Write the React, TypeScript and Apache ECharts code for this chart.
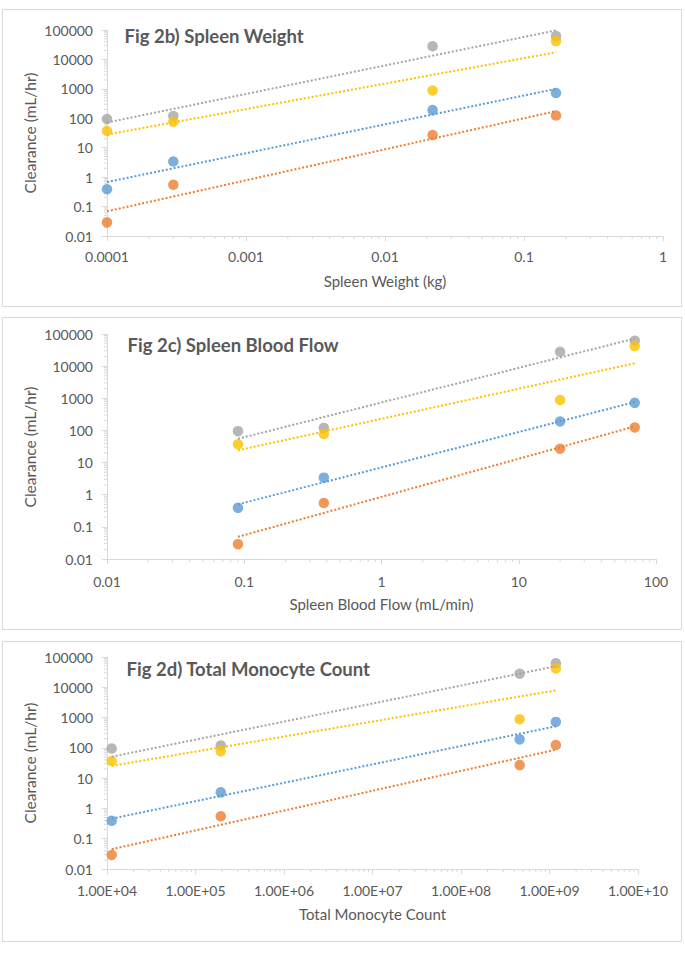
import React, { useEffect, useRef } from "react";
import * as echarts from "echarts";

// ---- Data ----
const seriesColors = ["#5B9BD5", "#ED7D31", "#A5A5A5", "#FFC000"];

// Clearance (mL/hr), same for every panel
const clearanceBlue = [0.39, 3.4, 190, 720];
const clearanceOrange = [0.029, 0.55, 27, 124];
const clearanceGray = [95, 120, 28000, 62000];
const clearanceYellow = [37, 77, 880, 42000];

// X values per panel
const spleenWeight = [0.0001, 0.0003, 0.022, 0.17];
const spleenBloodFlow = [0.09, 0.38, 20, 70];
const monocyteCount = [1.13e4, 1.93e5, 4.6e8, 1.18e9];

// Trendline end values [at first x, at last x]
const trendWeightBlue = [0.68, 1000];
const trendWeightOrange = [0.069, 175];
const trendWeightGray = [72, 97000];
const trendWeightYellow = [28, 17500];

const trendFlowBlue = [0.5, 765];
const trendFlowOrange = [0.049, 133];
const trendFlowGray = [55, 72000];
const trendFlowYellow = [24, 12300];

const trendCountBlue = [0.46, 517];
const trendCountOrange = [0.045, 87];
const trendCountGray = [51, 49700];
const trendCountYellow = [25.5, 7900];

// Axis ranges
const yRange = [0.01, 100000];
const xRangeWeight = [0.0001, 1];
const xRangeFlow = [0.01, 100];
const xRangeCount = [1e4, 1e10];

const panelTitles = [
  "Fig 2b) Spleen Weight",
  "Fig 2c) Spleen Blood Flow",
  "Fig 2d) Total Monocyte Count",
];
const xAxisTitles = ["Spleen Weight (kg)", "Spleen Blood Flow (mL/min)", "Total Monocyte Count"];
const yAxisTitle = "Clearance (mL/hr)";

const FONT = "Lato, 'Noto Sans', sans-serif";
const TEXT = "#595959";
const LINE = "#D9D9D9";

function fmtPlain(v: number) {
  return String(Number(v.toPrecision(1)));
}
function fmtSci(v: number) {
  const e = Math.round(Math.log10(v));
  return "1.00E+" + String(e).padStart(2, "0");
}

function minorTicks(xr: number[], yr: number[]) {
  const out: number[][] = [];
  const x0 = Math.round(Math.log10(xr[0]));
  const x1 = Math.round(Math.log10(xr[1]));
  for (let d = x0; d < x1; d++) {
    for (let k = 2; k <= 9; k++) out.push([k * Math.pow(10, d), yr[0], 0]);
  }
  const y0 = Math.round(Math.log10(yr[0]));
  const y1 = Math.round(Math.log10(yr[1]));
  for (let d = y0; d < y1; d++) {
    for (let k = 2; k <= 9; k++) out.push([xr[0], k * Math.pow(10, d), 1]);
  }
  return out;
}

export default function App() {
  const ref = useRef<HTMLDivElement>(null);

  useEffect(() => {
    if (!ref.current) return;
    const chart = echarts.init(ref.current, undefined, { renderer: "svg" });

    const grids = [
      { left: 107, top: 30, width: 556, height: 206 },
      { left: 107, top: 334, width: 549, height: 225 },
      { left: 107, top: 657, width: 531, height: 212 },
    ];
    const xRanges = [xRangeWeight, xRangeFlow, xRangeCount];
    const xData = [spleenWeight, spleenBloodFlow, monocyteCount];
    const yData = [clearanceBlue, clearanceOrange, clearanceGray, clearanceYellow];
    const trends = [
      [trendWeightBlue, trendWeightOrange, trendWeightGray, trendWeightYellow],
      [trendFlowBlue, trendFlowOrange, trendFlowGray, trendFlowYellow],
      [trendCountBlue, trendCountOrange, trendCountGray, trendCountYellow],
    ];
    const labelMargins = [13, 15, 14];

    const xAxes: any[] = [];
    const yAxes: any[] = [];
    const series: any[] = [];
    const graphics: any[] = [];

    const panelBoxes = [
      { y: 9, h: 297 },
      { y: 317, h: 312 },
      { y: 641, h: 300 },
    ];
    const titlePos = [
      [124.5, 36],
      [127.5, 345],
      [126.6, 669],
    ];
    const xTitleY = [281, 604, 914];
    const yTitleY = [133, 447, 763];

    for (let i = 0; i < 3; i++) {
      const xr = xRanges[i];
      const span = Math.round(Math.log10(xr[1]) - Math.log10(xr[0]));
      xAxes.push({
        type: "log",
        logBase: 10,
        gridIndex: i,
        min: xr[0],
        max: xr[1],
        splitNumber: span,
        axisLine: { show: true, lineStyle: { color: LINE, width: 1 } },
        axisTick: { show: true, length: 5, lineStyle: { color: LINE } },
        splitLine: { show: false },
        axisLabel: {
          color: TEXT,
          fontFamily: FONT,
          fontSize: 14,
          margin: labelMargins[i],
          formatter: i === 2 ? (v: number) => fmtSci(v) : (v: number) => fmtPlain(v),
        },
      });
      yAxes.push({
        type: "log",
        logBase: 10,
        gridIndex: i,
        min: yRange[0],
        max: yRange[1],
        splitNumber: 7,
        axisLine: { show: true, lineStyle: { color: LINE, width: 1 } },
        axisTick: { show: true, length: 5, lineStyle: { color: LINE } },
        splitLine: { show: false },
        axisLabel: {
          color: TEXT,
          fontFamily: FONT,
          fontSize: 14,
          margin: 14,
          formatter: (v: number) => fmtPlain(v),
        },
      });

      // minor ticks
      series.push({
        type: "custom",
        xAxisIndex: i,
        yAxisIndex: i,
        silent: true,
        clip: false,
        z: 1,
        dimensions: ["x", "y", "k"],
        encode: { x: 0, y: 1 },
        data: minorTicks(xr, yRange),
        renderItem: (params: any, api: any) => {
          const p = api.coord([api.value(0), api.value(1)]);
          const k = api.value(2);
          const len = 3;
          const shape =
            k === 0
              ? { x1: p[0], y1: p[1], x2: p[0], y2: p[1] + len }
              : { x1: p[0] - len, y1: p[1], x2: p[0], y2: p[1] };
          return { type: "line", shape, style: { stroke: LINE, lineWidth: 1 } };
        },
      });

      for (let s = 0; s < 4; s++) {
        const xs = xData[i];
        series.push({
          type: "scatter",
          xAxisIndex: i,
          yAxisIndex: i,
          symbol: "circle",
          symbolSize: 10.5,
          itemStyle: { color: seriesColors[s] },
          z: 3,
          data: xs.map((x, j) => [x, yData[s][j]]),
        });
      }
      for (let s = 0; s < 4; s++) {
        const xs = xData[i];
        const t = trends[i][s];
        series.push({
          type: "line",
          xAxisIndex: i,
          yAxisIndex: i,
          showSymbol: false,
          symbol: "none",
          z: 4,
          lineStyle: { color: seriesColors[s], width: 2, type: [2, 2] },
          data: [
            [xs[0], t[0]],
            [xs[xs.length - 1], t[1]],
          ],
        });
      }

      graphics.push({
        type: "rect",
        shape: { x: 2.5, y: panelBoxes[i].y + 0.5, width: 679, height: panelBoxes[i].h },
        style: { fill: "none", stroke: LINE, lineWidth: 1 },
        z: 0,
        silent: true,
      });
      graphics.push({
        type: "text",
        x: titlePos[i][0],
        y: titlePos[i][1],
        style: {
          text: panelTitles[i],
          fill: TEXT,
          font: `bold 18.5px ${FONT}`,
          textAlign: "left",
          textVerticalAlign: "middle",
        },
        z: 10,
      });
      const g = grids[i];
      graphics.push({
        type: "text",
        x: g.left + g.width / 2,
        y: xTitleY[i],
        style: {
          text: xAxisTitles[i],
          fill: TEXT,
          font: `15px ${FONT}`,
          textAlign: "center",
          textVerticalAlign: "middle",
        },
        z: 10,
      });
      graphics.push({
        type: "text",
        x: 30,
        y: yTitleY[i],
        rotation: Math.PI / 2,
        style: {
          text: yAxisTitle,
          fill: TEXT,
          font: `15.5px ${FONT}`,
          textAlign: "center",
          textVerticalAlign: "middle",
        },
        z: 10,
      });
    }

    chart.setOption({
      animation: false,
      backgroundColor: "#ffffff",
      grid: grids,
      xAxis: xAxes,
      yAxis: yAxes,
      series,
      graphic: graphics,
    });

    return () => chart.dispose();
  }, []);

  return (
    <div
      ref={ref}
      style={{ position: "absolute", left: 0, top: 0, width: 685, height: 955, background: "#fff" }}
    />
  );
}
